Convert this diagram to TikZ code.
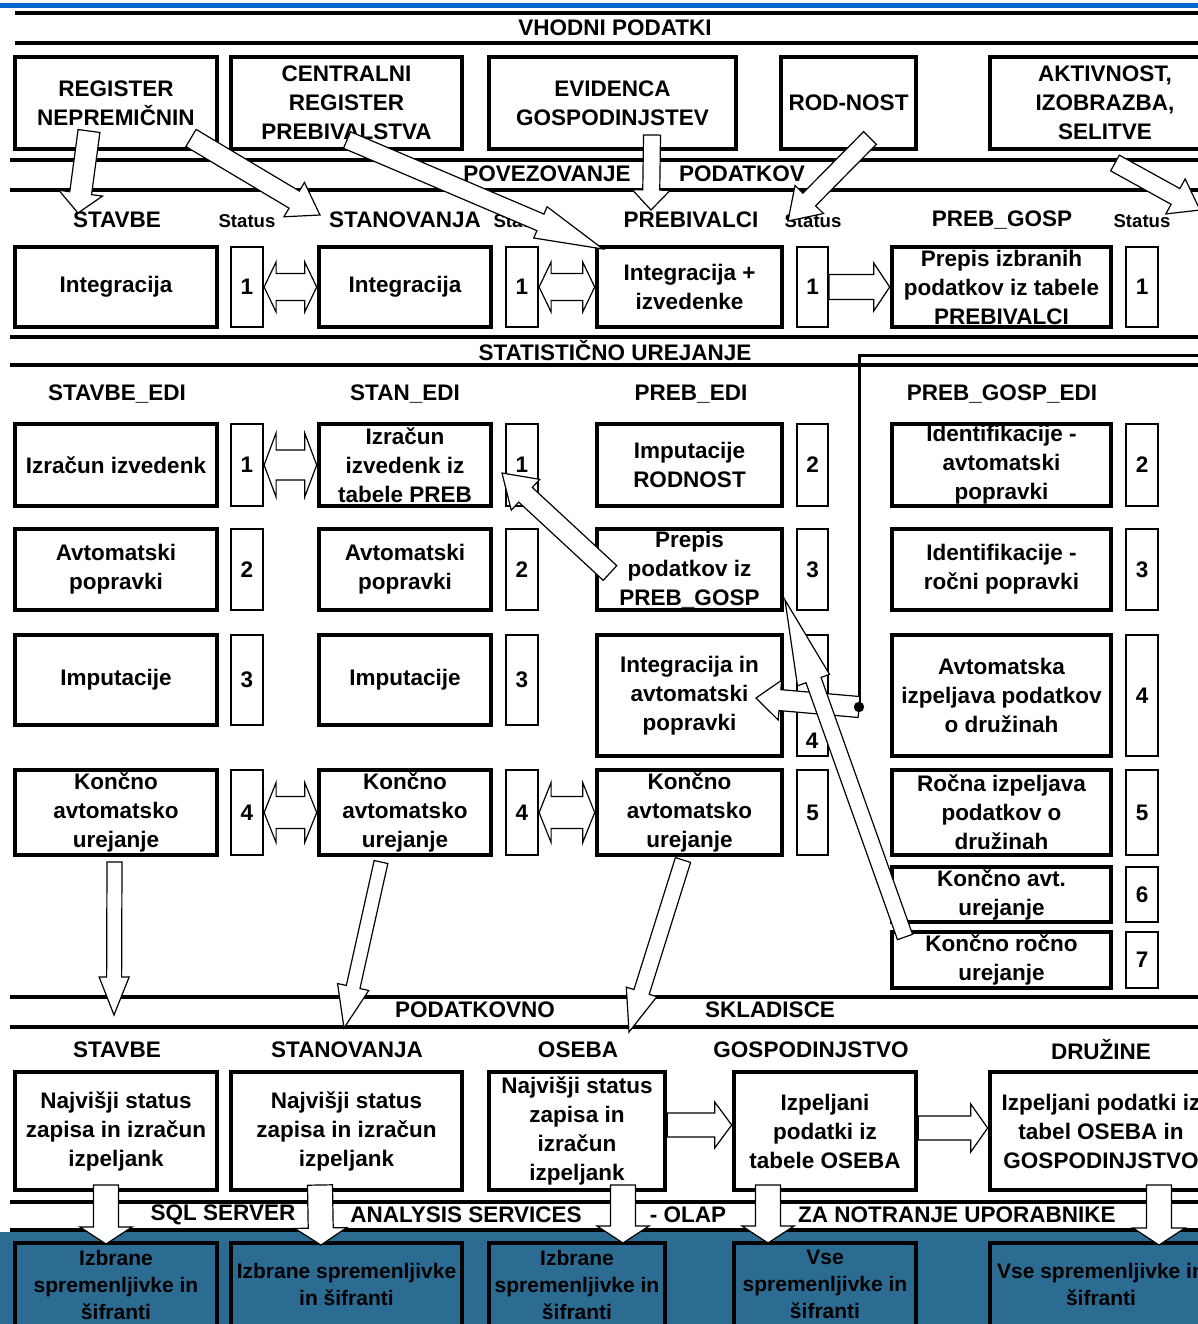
\documentclass[tikz,border=0pt]{standalone}
\usepackage{fontspec}
\setmainfont{Liberation Sans}
\usetikzlibrary{calc}
\definecolor{topblue}{RGB}{0,102,204}
\definecolor{dwblue}{RGB}{44,107,146}
\tikzset{
 every node/.style={font=\bfseries\fontsize{11.25pt}{14.5pt}\selectfont, inner sep=0pt},
 box/.style={draw, line width=2.3pt, fill=white, align=center},
 sbox/.style={draw, line width=1.1pt, fill=white, align=center},
 obox/.style={draw, line width=2.3pt, fill=dwblue, align=center, font=\bfseries\fontsize{10.5pt}{13.5pt}\selectfont},
 hdr/.style={align=center},
 stat/.style={font=\bfseries\fontsize{9.3pt}{11pt}\selectfont},
 rulel/.style={line width=2pt},
 blockarr/.style={draw=black, line width=0.6pt, fill=white, line join=miter},
}
% box: [style]{name}{x1}{y1}{x2}{y2}{text}
\newcommand{\bx}[7][box]{\node[#1, minimum width={(#5-#3)*0.5pt}, minimum height={(#6-#4)*0.5pt}] (#2) at ({(#3+#5)/2},{(#4+#6)/2}) {#7};}
% block arrow: {from}{to}{shaft half}{head half}{head length} (px)
\newcommand{\barrow}[5]{%
\draw[blockarr] let \p1=(#1), \p2=(#2),
  \n1={atan2(\y2-\y1,\x2-\x1)},
  \n2={veclen(\x2-\x1,\y2-\y1)-#5*0.5pt} in
  ($(\p1)+({\n1+90}:{#3*0.5pt})$) --
  ($(\p1)+({\n1}:{\n2*1pt})+({\n1+90}:{#3*0.5pt})$) --
  ($(\p1)+({\n1}:{\n2*1pt})+({\n1+90}:{#4*0.5pt})$) --
  (\p2) --
  ($(\p1)+({\n1}:{\n2*1pt})+({\n1-90}:{#4*0.5pt})$) --
  ($(\p1)+({\n1}:{\n2*1pt})+({\n1-90}:{#3*0.5pt})$) --
  ($(\p1)+({\n1-90}:{#3*0.5pt})$) -- cycle;}
% horizontal double arrow
\newcommand{\dbarrow}[5]{%
\draw[blockarr] let \p1=(#1), \p2=(#2) in
 (\x1,\y1) -- ({\x1+#5*0.5pt},{\y1+#4*0.5pt}) -- ({\x1+#5*0.5pt},{\y1+#3*0.5pt})
 -- ({\x2-#5*0.5pt},{\y1+#3*0.5pt}) -- ({\x2-#5*0.5pt},{\y1+#4*0.5pt}) -- (\x2,\y1)
 -- ({\x2-#5*0.5pt},{\y1-#4*0.5pt}) -- ({\x2-#5*0.5pt},{\y1-#3*0.5pt})
 -- ({\x1+#5*0.5pt},{\y1-#3*0.5pt}) -- ({\x1+#5*0.5pt},{\y1-#4*0.5pt}) -- cycle;}

\begin{document}
\begin{tikzpicture}[x=0.5pt, y=-0.5pt]
\useasboundingbox (0,0) rectangle (1198,1324);
\fill[white] (0,0) rectangle (1198,1324);
% top blue line and bottom blue band
\fill[topblue] (0,3) rectangle (1198,8);
\fill[dwblue] (0,1232) rectangle (1198,1324);
% rules
\foreach \yy/\xs in {13/15, 43/15, 160/10, 190/10, 337/10, 365/10, 997/10, 1027/10, 1202/10, 1230/10}
  \draw[rulel] (\xs,\yy) -- (1198,\yy);
% band titles
\node (tVhod) at (615,28) {VHODNI PODATKI};
\node (tPov1) at (547,174) {POVEZOVANJE};
\node (tPov2) at (742,174) {PODATKOV};
\node (tStat) at (615,351) {STATISTIČNO UREJANJE};
\node (tPod1) at (475,1010) {PODATKOVNO};
\node (tPod2) at (770,1010) {SKLADISCE};
\node (tSql) at (223,1215) {SQL SERVER};
\node (tAna) at (466,1215) {ANALYSIS SERVICES};
\node (tOlap) at (688,1215) {- OLAP};
\node (tZa) at (957,1215) {ZA NOTRANJE UPORABNIKE};
% input sources
\bx{reg}{15}{57}{217}{149}{REGISTER\\NEPREMIČNIN}
\bx{crp}{231}{57}{462}{149}{CENTRALNI\\REGISTER\\PREBIVALSTVA}
\bx{evg}{489}{57}{736}{149}{EVIDENCA\\GOSPODINJSTEV}
\bx{rod}{781}{57}{916}{149}{ROD-NOST}
\bx{akt}{990}{57}{1220}{149}{AKTIVNOST,\\IZOBRAZBA,\\SELITVE}
% headers linking
\node[hdr] (hStavbe) at (117,220) {STAVBE};
\node[stat] (st1) at (247,221) {Status};
\node[hdr] (hStan) at (405,220) {STANOVANJA};
\node[stat] (st2) at (522,221) {Status};
\node[hdr] (hPreb) at (691,220) {PREBIVALCI};
\node[stat] (st3) at (813,221) {Status};
\node[hdr] (hPg) at (1002,220) {PREB\_GOSP};
\node[stat] (st4) at (1142,221) {Status};
% row 2
\bx{i1}{15}{247}{217}{327}{Integracija}
\bx[sbox]{s1}{231}{247}{263}{327}{1}
\bx{i2}{319}{247}{491}{327}{Integracija}
\bx[sbox]{s2}{506}{247}{538}{327}{1}
\bx{i3}{597}{247}{782}{327}{Integracija +\\izvedenke}
\bx[sbox]{s3}{797}{247}{828}{327}{1}
\bx{i4}{892}{247}{1111}{327}{Prepis izbranih\\podatkov iz tabele\\PREBIVALCI}
\bx[sbox]{s4}{1126}{247}{1158}{327}{1}
% edit headers
\node[hdr] (hSe) at (117,394) {STAVBE\_EDI};
\node[hdr] (hSte) at (405,394) {STAN\_EDI};
\node[hdr] (hPe) at (691,394) {PREB\_EDI};
\node[hdr] (hPge) at (1002,394) {PREB\_GOSP\_EDI};
% row 3
\bx{e11}{15}{424}{217}{506}{Izračun izvedenk}
\bx[sbox]{e11s}{231}{424}{263}{506}{1}
\bx{e21}{319}{424}{491}{506}{Izračun\\izvedenk iz\\tabele PREB}
\bx[sbox]{e21s}{506}{424}{538}{506}{1}
\bx{e31}{597}{424}{782}{506}{Imputacije\\RODNOST}
\bx[sbox]{e31s}{797}{424}{828}{506}{2}
\bx{e41}{892}{424}{1111}{506}{Identifikacije -\\avtomatski\\popravki}
\bx[sbox]{e41s}{1126}{424}{1158}{506}{2}
% row 4
\bx{e12}{15}{529}{217}{610}{Avtomatski\\popravki}
\bx[sbox]{e12s}{231}{529}{263}{610}{2}
\bx{e22}{319}{529}{491}{610}{Avtomatski\\popravki}
\bx[sbox]{e22s}{506}{529}{538}{610}{2}
\bx{e32}{597}{529}{782}{610}{Prepis\\podatkov iz\\PREB\_GOSP}
\bx[sbox]{e32s}{797}{529}{828}{610}{3}
\bx{e42}{892}{529}{1111}{610}{Identifikacije -\\ročni popravki}
\bx[sbox]{e42s}{1126}{529}{1158}{610}{3}
% row 5
\bx{e13}{15}{635}{217}{725}{Imputacije}
\bx[sbox]{e13s}{231}{635}{263}{725}{3}
\bx{e23}{319}{635}{491}{725}{Imputacije}
\bx[sbox]{e23s}{506}{635}{538}{725}{3}
\bx{e33}{597}{635}{782}{756}{Integracija in\\avtomatski\\popravki}
\bx[sbox]{e33s}{797}{635}{828}{756}{}
\node (e33n) at (812,741) {4};
\bx{e43}{892}{635}{1111}{756}{Avtomatska\\izpeljava podatkov\\o družinah}
\bx[sbox]{e43s}{1126}{635}{1158}{756}{4}
% row 6
\bx{e14}{15}{770}{217}{855}{Končno\\avtomatsko\\urejanje}
\bx[sbox]{e14s}{231}{770}{263}{855}{4}
\bx{e24}{319}{770}{491}{855}{Končno\\avtomatsko\\urejanje}
\bx[sbox]{e24s}{506}{770}{538}{855}{4}
\bx{e34}{597}{770}{782}{855}{Končno\\avtomatsko\\urejanje}
\bx[sbox]{e34s}{797}{770}{828}{855}{5}
\bx{e44}{892}{770}{1111}{855}{Ročna izpeljava\\podatkov o\\družinah}
\bx[sbox]{e44s}{1126}{770}{1158}{855}{5}
% rows 7, 8
\bx{e45}{892}{867}{1111}{922}{Končno avt.\\urejanje}
\bx[sbox]{e45s}{1126}{867}{1158}{922}{6}
\bx{e46}{892}{932}{1111}{988}{Končno ročno\\urejanje}
\bx[sbox]{e46s}{1126}{932}{1158}{988}{7}
% warehouse headers
\node[hdr] (wSt) at (117,1050) {STAVBE};
\node[hdr] (wSn) at (347,1050) {STANOVANJA};
\node[hdr] (wOs) at (578,1050) {OSEBA};
\node[hdr] (wGo) at (811,1050) {GOSPODINJSTVO};
\node[hdr] (wDr) at (1101,1050) {DRUŽINE};
% warehouse boxes
\bx{d1}{15}{1072}{217}{1190}{Najvišji status\\zapisa in izračun\\izpeljank}
\bx{d2}{231}{1072}{462}{1190}{Najvišji status\\zapisa in izračun\\izpeljank}
\bx{d3}{489}{1072}{665}{1190}{Najvišji status\\zapisa in\\izračun\\izpeljank}
\bx{d4}{734}{1072}{916}{1190}{Izpeljani\\podatki iz\\tabele OSEBA}
\bx{d5}{990}{1072}{1212}{1190}{Izpeljani podatki iz\\tabel OSEBA in\\GOSPODINJSTVO}
% OLAP boxes
\bx[obox]{o1}{15}{1243}{217}{1326}{Izbrane\\spremenljivke in\\šifranti}
\bx[obox]{o2}{231}{1243}{462}{1326}{Izbrane spremenljivke\\in šifranti}
\bx[obox]{o3}{489}{1243}{665}{1326}{Izbrane\\spremenljivke in\\šifranti}
\bx[obox]{o4}{734}{1243}{916}{1326}{Vse\\spremenljivke in\\šifranti}
\bx[obox]{o5}{990}{1243}{1212}{1326}{Vse spremenljivke in\\šifranti}
% connector line to PREB_EDI
\coordinate (cR) at (1198,355);
\coordinate (cC) at (859,355);
\coordinate (cD) at (859,707);
\draw[line width=1.5pt] (cR) -- (cC) -- (cD);
% arrow end coordinates
\coordinate (a1s) at (89,131);   \coordinate (a1e) at (78,213);
\coordinate (a2s) at (191,138);  \coordinate (a2e) at (320,215);
\coordinate (a3s) at (347,140);  \coordinate (a3e) at (603,249);
\coordinate (a4s) at (652,135);  \coordinate (a4e) at (651,210);
\coordinate (a5s) at (870,138);  \coordinate (a5e) at (788,221);
\coordinate (a6s) at (1115,163); \coordinate (a6e) at (1200,210);
\coordinate (a7s) at (610,573);  \coordinate (a7e) at (502,473);
\coordinate (a8s) at (905,937);  \coordinate (a8e) at (785,600);
\coordinate (a9e) at (756,698);
\coordinate (a10s) at (114.5,862); \coordinate (a10e) at (114,1015);
\coordinate (a11s) at (381,862);   \coordinate (a11e) at (344,1028);
\coordinate (a12s) at (683,860);   \coordinate (a12e) at (629,1032);
% block arrows
\barrow{a1s}{a1e}{11}{22}{20}
\barrow{a2s}{a2e}{10}{20}{30}
\barrow{a3s}{a3e}{9}{17}{68}
\barrow{a4s}{a4e}{8.5}{19}{20}
\barrow{a5s}{a5e}{9}{20}{30}
\barrow{a6s}{a6e}{9}{20}{28}
\barrow{a7s}{a7e}{10}{21}{32}
\barrow{cD}{a9e}{10.5}{20}{24}
\barrow{a8s}{a8e}{8}{17}{85}
\barrow{a10s}{a10e}{7.5}{15}{38}
\barrow{a11s}{a11e}{7}{16}{42}
\barrow{a12s}{a12e}{8}{16}{42}
% double arrows
\dbarrow{s1.east}{i2.west}{13.5}{25}{12}
\dbarrow{s2.east}{i3.west}{13.5}{25}{12}
\dbarrow{e11s.east}{e21.west}{15}{32}{12}
\dbarrow{e14s.east}{e24.west}{16}{30}{12}
\dbarrow{e24s.east}{e34.west}{16}{30}{12}
% single horizontal arrows
\barrow{s3.east}{i4.west}{12.5}{24}{16}
\barrow{$(d3.east)+(0,-6)$}{$(d4.west)+(0,-6)$}{12}{23}{17}
\barrow{$(d4.east)+(0,-3)$}{$(d5.west)+(0,-3)$}{12}{24}{17}
% down arrows to OLAP
\coordinate (b1s) at (106,1185); \coordinate (b1e) at (106,1244);
\coordinate (b2s) at (320,1185); \coordinate (b2e) at (321,1245);
\coordinate (b3s) at (623,1185); \coordinate (b3e) at (623,1243);
\coordinate (b4s) at (768,1185); \coordinate (b4e) at (768,1243);
\coordinate (b5s) at (1159,1185); \coordinate (b5e) at (1159,1245);
\foreach \k in {1,...,5} {\barrow{b\k s}{b\k e}{12.5}{26}{17}}
% dot
\fill (cD) circle (2.6pt);
\end{tikzpicture}
\end{document}
